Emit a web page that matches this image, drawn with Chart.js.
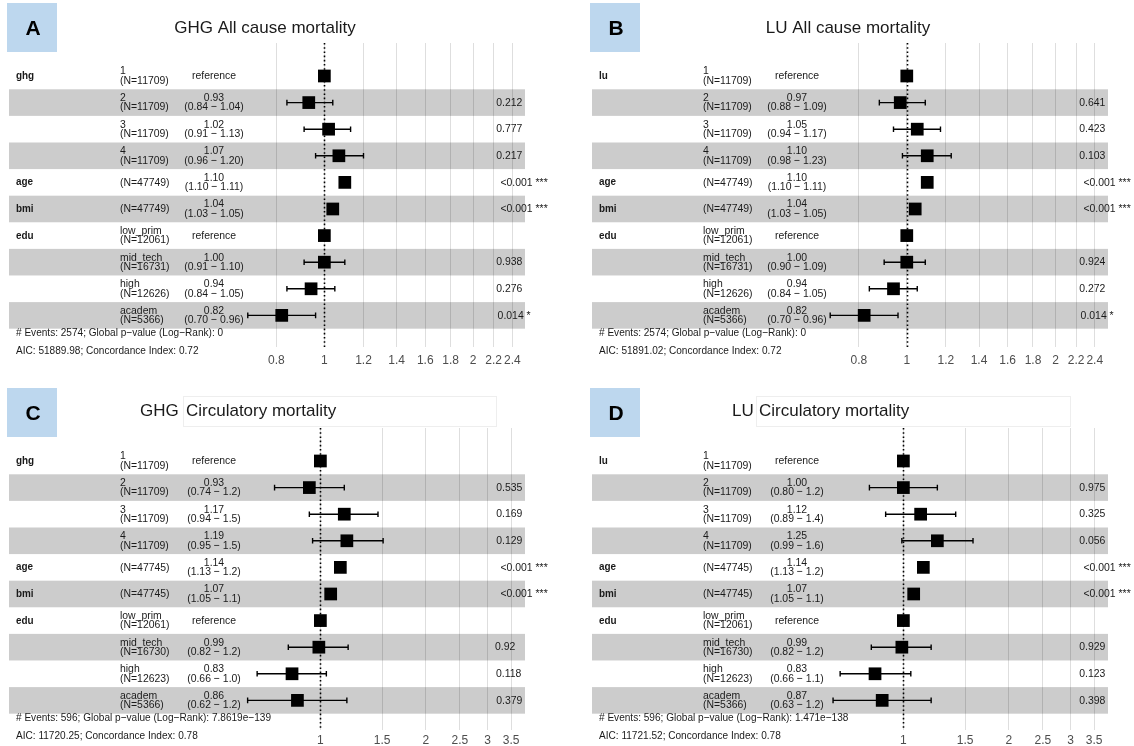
<!DOCTYPE html>
<html>
<head>
<meta charset="utf-8">
<title>Forest plots</title>
<script src="https://cdn.jsdelivr.net/npm/chart.js@4.4.1/dist/chart.umd.min.js"></script>
<style>
  body { margin: 0; background: #fff; width: 1134px; height: 746px; overflow: hidden; position: relative; }
  .panel { position: absolute; }
</style>
</head>
<body>
<div class="panel" style="left:0;top:0"><canvas id="chartA" width="583" height="373"></canvas></div>
<div class="panel" style="left:583px;top:0"><canvas id="chartB" width="551" height="373"></canvas></div>
<div class="panel" style="left:0;top:385px"><canvas id="chartC" width="583" height="361"></canvas></div>
<div class="panel" style="left:583px;top:385px"><canvas id="chartD" width="551" height="361"></canvas></div>
<script>
// Rows (shared by all four plots)
const ghgVars = ['ghg', '', '', '', 'age', 'bmi', 'edu', '', '', ''];
const luVars = ['lu', '', '', '', 'age', 'bmi', 'edu', '', '', ''];
const rowLevels = ['1', '2', '3', '4', '', '', 'low_prim', 'mid_tech', 'high', 'academ'];
const allCauseN = [11709, 11709, 11709, 11709, 47749, 47749, 12061, 16731, 12626, 5366];
const circN = [11709, 11709, 11709, 11709, 47745, 47745, 12061, 16730, 12623, 5366];

// x axis ticks
const allCauseTicks = [0.8, 1, 1.2, 1.4, 1.6, 1.8, 2, 2.2, 2.4];
const circTicks = [1, 1.5, 2, 2.5, 3, 3.5];

// A: GHG all cause mortality
const ghgAllHR = [1, 0.93, 1.02, 1.07, 1.10, 1.04, 1, 1.00, 0.94, 0.82];
const ghgAllLow = [null, 0.84, 0.91, 0.96, 1.10, 1.03, null, 0.91, 0.84, 0.70];
const ghgAllHigh = [null, 1.04, 1.13, 1.20, 1.11, 1.05, null, 1.10, 1.05, 0.96];
const ghgAllCI = ['', '(0.84 − 1.04)', '(0.91 − 1.13)', '(0.96 − 1.20)', '(1.10 − 1.11)', '(1.03 − 1.05)', '', '(0.91 − 1.10)', '(0.84 − 1.05)', '(0.70 − 0.96)'];
const ghgAllP = ['', '0.212', '0.777', '0.217', '<0.001 ***', '<0.001 ***', '', '0.938', '0.276', '0.014 *'];

// B: LU all cause mortality
const luAllHR = [1, 0.97, 1.05, 1.10, 1.10, 1.04, 1, 1.00, 0.94, 0.82];
const luAllLow = [null, 0.88, 0.94, 0.98, 1.10, 1.03, null, 0.90, 0.84, 0.70];
const luAllHigh = [null, 1.09, 1.17, 1.23, 1.11, 1.05, null, 1.09, 1.05, 0.96];
const luAllCI = ['', '(0.88 − 1.09)', '(0.94 − 1.17)', '(0.98 − 1.23)', '(1.10 − 1.11)', '(1.03 − 1.05)', '', '(0.90 − 1.09)', '(0.84 − 1.05)', '(0.70 − 0.96)'];
const luAllP = ['', '0.641', '0.423', '0.103', '<0.001 ***', '<0.001 ***', '', '0.924', '0.272', '0.014 *'];

// C: GHG circulatory mortality
const ghgCircHR = [1, 0.93, 1.17, 1.19, 1.14, 1.07, 1, 0.99, 0.83, 0.86];
const ghgCircLow = [null, 0.74, 0.93, 0.95, 1.13, 1.05, null, 0.81, 0.66, 0.62];
const ghgCircHigh = [null, 1.17, 1.46, 1.51, 1.15, 1.09, null, 1.20, 1.04, 1.19];
const ghgCircCI = ['', '(0.74 − 1.2)', '(0.94 − 1.5)', '(0.95 − 1.5)', '(1.13 − 1.2)', '(1.05 − 1.1)', '', '(0.82 − 1.2)', '(0.66 − 1.0)', '(0.62 − 1.2)'];
const ghgCircP = ['', '0.535', '0.169', '0.129', '<0.001 ***', '<0.001 ***', '', '0.92', '0.118', '0.379'];

// D: LU circulatory mortality
const luCircHR = [1, 1.00, 1.12, 1.25, 1.14, 1.07, 1, 0.99, 0.83, 0.87];
const luCircLow = [null, 0.80, 0.89, 0.99, 1.13, 1.05, null, 0.81, 0.66, 0.63];
const luCircHigh = [null, 1.25, 1.41, 1.58, 1.15, 1.09, null, 1.20, 1.05, 1.20];
const luCircCI = ['', '(0.80 − 1.2)', '(0.89 − 1.4)', '(0.99 − 1.6)', '(1.13 − 1.2)', '(1.05 − 1.1)', '', '(0.82 − 1.2)', '(0.66 − 1.1)', '(0.63 − 1.2)'];
const luCircP = ['', '0.975', '0.325', '0.056', '<0.001 ***', '<0.001 ***', '', '0.929', '0.123', '0.398'];

const FONT = '"Liberation Sans", Arial, Helvetica, sans-serif';
const TEXT = '#1a1a1a';
const SQUEEZE = 0.9; // table text in the source is slightly narrow

const panels = [
  {
    id: 'chartA', letter: 'A', title: 'GHG All cause mortality', bottom: 347, tickPad: 6,
    vars: ghgVars, n: allCauseN, hr: ghgAllHR, low: ghgAllLow, high: ghgAllHigh, ci: ghgAllCI, p: ghgAllP,
    ticks: allCauseTicks, xMin: 0.2302, xMax: 2.546,
    footer: ['# Events: 2574; Global p−value (Log−Rank): 0', 'AIC: 51889.98; Concordance Index: 0.72']
  },
  {
    id: 'chartB', letter: 'B', title: 'LU All cause mortality', bottom: 347, tickPad: 6,
    vars: luVars, n: allCauseN, hr: luAllHR, low: luAllLow, high: luAllHigh, ci: luAllCI, p: luAllP,
    ticks: allCauseTicks, xMin: 0.2308, xMax: 2.553,
    footer: ['# Events: 2574; Global p−value (Log−Rank): 0', 'AIC: 51891.02; Concordance Index: 0.72']
  },
  {
    id: 'chartC', letter: 'C', prefix: 'GHG', title: 'Circulatory mortality', prefixX: 140, titleX: 186, boxX: [183, 496],
    bottom: 345, tickPad: 3,
    vars: ghgVars, n: circN, hr: ghgCircHR, low: ghgCircLow, high: ghgCircHigh, ci: ghgCircCI, p: ghgCircP,
    ticks: circTicks, xMin: 0.1293, xMax: 3.835,
    footer: ['# Events: 596; Global p−value (Log−Rank): 7.8619e−139', 'AIC: 11720.25; Concordance Index: 0.78']
  },
  {
    id: 'chartD', letter: 'D', prefix: 'LU', title: 'Circulatory mortality', prefixX: 149, titleX: 176, boxX: [173, 487],
    bottom: 345, tickPad: 3,
    vars: luVars, n: circN, hr: luCircHR, low: luCircLow, high: luCircHigh, ci: luCircCI, p: luCircP,
    ticks: circTicks, xMin: 0.1293, xMax: 3.835,
    footer: ['# Events: 596; Global p−value (Log−Rank): 1.471e−138', 'AIC: 11721.52; Concordance Index: 0.78']
  }
];

// text squeezed horizontally, like the pasted R output
function squeezedText(ctx, text, x, y, sx) {
  ctx.save();
  ctx.translate(x, y);
  ctx.scale(sx, 1);
  ctx.fillText(text, 0, 0);
  ctx.restore();
}

// bands, reference line and confidence intervals under the squares, table text on top
const forestPlugin = {
  id: 'forest',
  beforeDatasetsDraw(chart) {
    const p = chart.options.plugins.forest.panel;
    const { ctx, chartArea } = chart;
    const xs = chart.scales.x, ys = chart.scales.y;
    ctx.save();
    // shaded rows
    ctx.fillStyle = 'rgba(0,0,0,0.2)';
    p.hr.forEach((v, i) => {
      if (i % 2 === 0) return;
      const y0 = ys.getPixelForValue(i - 0.5), y1 = ys.getPixelForValue(i + 0.5);
      ctx.fillRect(chartArea.left, y0, chartArea.right - chartArea.left, y1 - y0);
    });
    // dotted line at HR = 1
    const x1 = Math.round(xs.getPixelForValue(1)) + 0.5;
    ctx.strokeStyle = '#000';
    ctx.lineWidth = 1.6;
    ctx.setLineDash([1.6, 2.6]);
    ctx.beginPath();
    ctx.moveTo(x1, chartArea.top);
    ctx.lineTo(x1, chartArea.bottom);
    ctx.stroke();
    ctx.setLineDash([]);
    // whiskers
    ctx.lineWidth = 1.4;
    p.low.forEach((lo, i) => {
      if (lo == null) return;
      const y = ys.getPixelForValue(i);
      const a = xs.getPixelForValue(lo), b = xs.getPixelForValue(p.high[i]);
      ctx.beginPath();
      ctx.moveTo(a, y); ctx.lineTo(b, y);
      ctx.moveTo(a, y - 2.8); ctx.lineTo(a, y + 2.8);
      ctx.moveTo(b, y - 2.8); ctx.lineTo(b, y + 2.8);
      ctx.stroke();
    });
    ctx.restore();
  },
  afterDraw(chart) {
    const p = chart.options.plugins.forest.panel;
    const { ctx } = chart;
    const ys = chart.scales.y;
    ctx.save();
    ctx.textBaseline = 'middle';

    // panel letter box
    ctx.fillStyle = '#bdd7ee';
    ctx.fillRect(7, 3, 50, 49);
    ctx.fillStyle = '#000';
    ctx.font = 'bold 21px ' + FONT;
    ctx.textAlign = 'center';
    ctx.fillText(p.letter, 33, 29);

    // title
    ctx.font = '17px ' + FONT;
    ctx.fillStyle = TEXT;
    if (p.prefix) {
      ctx.fillStyle = '#fff';
      ctx.fillRect(p.boxX[0], 11, p.boxX[1] - p.boxX[0], 30);
      ctx.strokeStyle = '#eeeeee';
      ctx.lineWidth = 1;
      ctx.strokeRect(p.boxX[0] + 0.5, 11.5, p.boxX[1] - p.boxX[0], 30);
      ctx.fillStyle = TEXT;
      ctx.textAlign = 'left';
      ctx.fillText(p.prefix, p.prefixX, 26);
      ctx.fillText(p.title, p.titleX, 26);
    } else {
      ctx.textAlign = 'center';
      ctx.fillText(p.title, 265, 28);
    }

    // table columns
    p.hr.forEach((v, i) => {
      const y = ys.getPixelForValue(i);
      ctx.fillStyle = TEXT;
      if (p.vars[i]) {
        ctx.font = 'bold 11px ' + FONT;
        ctx.textAlign = 'left';
        squeezedText(ctx, p.vars[i], 16, y, SQUEEZE);
      }
      ctx.font = '11.6px ' + FONT;
      ctx.textAlign = 'left';
      const nText = '(N=' + p.n[i] + ')';
      if (rowLevels[i]) {
        squeezedText(ctx, rowLevels[i], 120, y - 4.8, SQUEEZE);
        squeezedText(ctx, nText, 120, y + 4.6, SQUEEZE);
      } else {
        squeezedText(ctx, nText, 120, y, SQUEEZE);
      }
      ctx.textAlign = 'center';
      if (p.low[i] == null) {
        squeezedText(ctx, 'reference', 214, y, SQUEEZE);
      } else {
        squeezedText(ctx, v.toFixed(2), 214, y - 4.8, SQUEEZE);
        squeezedText(ctx, p.ci[i], 214, y + 4.6, SQUEEZE);
      }
      if (p.p[i]) {
        ctx.textAlign = 'left';
        const w = ctx.measureText(p.p[i]).width * SQUEEZE;
        squeezedText(ctx, p.p[i], 491 + 0.2 * w, y, SQUEEZE);
      }
    });

    // footer
    ctx.font = '11.2px ' + FONT;
    ctx.textAlign = 'left';
    ctx.fillStyle = TEXT;
    squeezedText(ctx, p.footer[0], 16, 333, SQUEEZE);
    squeezedText(ctx, p.footer[1], 16, 351, SQUEEZE);
    ctx.restore();
  }
};

panels.forEach(p => {
  const canvas = document.getElementById(p.id);
  const W = canvas.width, H = canvas.height;
  const axisH = p.tickPad + 17;
  new Chart(canvas, {
    type: 'scatter',
    data: {
      datasets: [{
        data: p.hr.map((v, i) => ({ x: v, y: i })),
        pointStyle: 'rect',
        pointRadius: 9,
        pointHoverRadius: 9,
        backgroundColor: '#000',
        borderColor: '#000',
        borderWidth: 0
      }]
    },
    options: {
      responsive: false,
      animation: false,
      events: [],
      layout: { padding: { left: 7, right: W - 525, top: 43, bottom: H - p.bottom - axisH } },
      plugins: {
        legend: { display: false },
        tooltip: { enabled: false },
        forest: { panel: p }
      },
      scales: {
        x: {
          type: 'logarithmic',
          min: p.xMin,
          max: p.xMax,
          bounds: 'data',
          afterBuildTicks: s => { s.ticks = p.ticks.map(v => ({ value: v })); },
          afterFit: s => { s.height = axisH; },
          grid: { color: '#dedede', lineWidth: 1, drawTicks: false },
          border: { display: false },
          ticks: {
            autoSkip: false, maxRotation: 0, padding: p.tickPad,
            color: '#4d4d4d', font: { size: 12, family: FONT },
            callback: v => String(v)
          }
        },
        y: {
          type: 'linear', display: false, reverse: true,
          min: -1.24, max: -1.24 + (p.bottom - 43) / 26.6
        }
      }
    },
    plugins: [forestPlugin]
  });
});
</script>
</body>
</html>
